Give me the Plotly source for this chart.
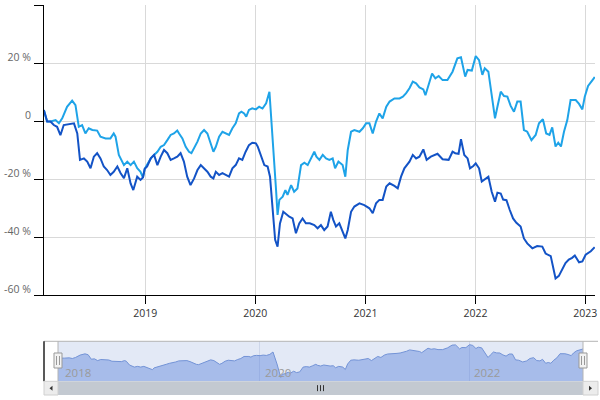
import plotly.graph_objects as go

# ---------------- data ----------------
light_dates = [
    "2018-01-29", "2018-02-09", "2018-02-20", "2018-03-09", "2018-03-20", "2018-03-31",
    "2018-04-16", "2018-05-03", "2018-05-14", "2018-05-25", "2018-06-05", "2018-06-16",
    "2018-06-27", "2018-07-09", "2018-07-25", "2018-08-05", "2018-08-22", "2018-09-07",
    "2018-09-18", "2018-09-24", "2018-10-05", "2018-10-22", "2018-11-02", "2018-11-13",
    "2018-11-24", "2018-12-05", "2018-12-16", "2018-12-24", "2018-12-30",
    "2019-01-07", "2019-01-19", "2019-01-30", "2019-02-10", "2019-02-21", "2019-03-04",
    "2019-03-15", "2019-03-26", "2019-04-06", "2019-04-17", "2019-04-23", "2019-05-04",
    "2019-05-15", "2019-05-26", "2019-06-03", "2019-06-12", "2019-06-23", "2019-07-04",
    "2019-07-15", "2019-07-26", "2019-08-06", "2019-08-15", "2019-08-23", "2019-09-03",
    "2019-09-14", "2019-09-25", "2019-10-06", "2019-10-17", "2019-10-28", "2019-11-08",
    "2019-11-16", "2019-11-25", "2019-12-02", "2019-12-11", "2019-12-22", "2020-01-03",
    "2020-01-14", "2020-01-25", "2020-02-06", "2020-02-17", "2020-03-02", "2020-03-10",
    "2020-03-15", "2020-03-21", "2020-04-01", "2020-04-10", "2020-04-17", "2020-04-29",
    "2020-05-09", "2020-05-20", "2020-06-01", "2020-06-12", "2020-06-23", "2020-07-04",
    "2020-07-15", "2020-07-22", "2020-08-01", "2020-08-12", "2020-08-23", "2020-09-03",
    "2020-09-14", "2020-09-22", "2020-10-03", "2020-10-17", "2020-10-26", "2020-11-03",
    "2020-11-14", "2020-11-25", "2020-12-12", "2020-12-23", "2021-01-03", "2021-01-14",
    "2021-01-25", "2021-02-05", "2021-02-16", "2021-02-27", "2021-03-11", "2021-03-22",
    "2021-04-07", "2021-04-24", "2021-05-05", "2021-05-16", "2021-05-27",
    "2021-06-07", "2021-06-18", "2021-06-29", "2021-07-12", "2021-07-19", "2021-07-30",
    "2021-08-10", "2021-08-21", "2021-09-01", "2021-09-14", "2021-09-30", "2021-10-17",
    "2021-11-02", "2021-11-14", "2021-11-28", "2021-12-06", "2021-12-20", "2022-01-02",
    "2022-01-13", "2022-01-24", "2022-02-01", "2022-02-13", "2022-02-24", "2022-03-07",
    "2022-03-15", "2022-03-26", "2022-04-06", "2022-04-17", "2022-04-28", "2022-05-09",
    "2022-05-20", "2022-05-31", "2022-06-11", "2022-06-22", "2022-07-06", "2022-07-20",
    "2022-07-31", "2022-08-13", "2022-08-24", "2022-09-04", "2022-09-13", "2022-09-24",
    "2022-10-03", "2022-10-12", "2022-10-22", "2022-11-02", "2022-11-13", "2022-11-30",
    "2022-12-11", "2022-12-22", "2022-12-30", "2023-01-10", "2023-01-29", "2023-02-01",
]
light_values = [
    3.8, -0.2, -0.2, 0.3, -0.8, 0.9,
    4.9, 7.0, 5.5, -2.0, -1.4, -4.3,
    -2.5, -3.1, -3.3, -5.4, -6.0, -6.0,
    -4.3, -5.4, -11.7, -15.2, -14.0, -15.2,
    -14.0, -16.3, -17.5, -19.5, -16.5,
    -15.2, -12.9, -11.7, -10.6, -8.9, -8.3,
    -6.6, -4.8, -4.3, -3.3, -4.3, -6.0,
    -8.9, -10.6, -11.1, -9.4, -7.1, -4.3,
    -3.1, -4.3, -7.7, -10.6, -8.9, -5.4,
    -3.7, -4.3, -4.8, -2.5, -0.8, 2.6,
    3.2, 2.6, 1.5, 3.8, 4.4, 4.0,
    4.9, 4.3, 6.1, 10.1, -10.0, -23.8,
    -32.4, -27.2, -26.1, -23.8, -25.5, -22.1,
    -24.4, -23.3, -15.2, -14.4, -15.2, -12.9,
    -10.6, -12.3, -13.4, -11.7, -12.9, -13.4,
    -12.9, -16.3, -14.0, -15.2, -19.2, -10.0,
    -3.7, -3.1, -3.7, -2.5, -0.8, -0.8,
    -4.3, -0.2, 2.6, 0.9, 4.9, 6.7,
    7.8, 7.8, 8.4, 9.6, 11.3,
    13.6, 13.0, 11.6, 10.9, 8.9, 13.0,
    16.4, 14.7, 15.5, 14.1, 14.1, 17.0,
    21.6, 22.0, 15.3, 17.6, 17.4, 22.4,
    21.0, 15.9, 18.2, 17.0, 9.5, 0.9,
    4.9, 10.1, 8.6, 8.4, 5.2, 3.2,
    6.7, 6.7, -3.1, -3.7, -6.6, -4.8,
    -0.8, 0.6, -4.3, -4.8, -2.2, -8.8,
    -7.5, -8.8, -3.7, 0.3, 7.2, 7.2,
    5.9, 4.0, 8.4, 12.1, 14.7, 15.2,
]

dark_dates = [
    "2018-01-29", "2018-02-09", "2018-02-20", "2018-03-03", "2018-03-14", "2018-03-25",
    "2018-04-05", "2018-04-22", "2018-05-09", "2018-05-20", "2018-05-29", "2018-06-11",
    "2018-06-22", "2018-07-03", "2018-07-14", "2018-07-25", "2018-08-05", "2018-08-16",
    "2018-08-27", "2018-09-07", "2018-09-18", "2018-09-30", "2018-10-11", "2018-10-22",
    "2018-11-02", "2018-11-13", "2018-11-22", "2018-12-05", "2018-12-16", "2018-12-24",
    "2018-12-30",
    "2019-01-07", "2019-01-19", "2019-01-30", "2019-02-10", "2019-02-21", "2019-03-04",
    "2019-03-15", "2019-03-26", "2019-04-06", "2019-04-17", "2019-04-28", "2019-05-09",
    "2019-05-20", "2019-05-31", "2019-06-12", "2019-06-23", "2019-07-04", "2019-07-15",
    "2019-07-26", "2019-08-06", "2019-08-15", "2019-08-23", "2019-09-03", "2019-09-14",
    "2019-09-25", "2019-10-06", "2019-10-17", "2019-10-28", "2019-11-08", "2019-11-19",
    "2019-11-30", "2019-12-11", "2019-12-22", "2020-01-03",
    "2020-01-09", "2020-01-20", "2020-01-31", "2020-02-11", "2020-02-19", "2020-02-27",
    "2020-03-07", "2020-03-15", "2020-03-23", "2020-04-03", "2020-04-14", "2020-04-23",
    "2020-05-04", "2020-05-15", "2020-05-26", "2020-06-06", "2020-06-17", "2020-06-30",
    "2020-07-15", "2020-07-26", "2020-08-06", "2020-08-17", "2020-08-28", "2020-09-08",
    "2020-09-16", "2020-09-25", "2020-10-06", "2020-10-17", "2020-10-26", "2020-11-03",
    "2020-11-14", "2020-11-25", "2020-12-12", "2020-12-28", "2021-01-14", "2021-01-25",
    "2021-02-05", "2021-02-16", "2021-02-27", "2021-03-11", "2021-03-22", "2021-04-07",
    "2021-04-18", "2021-04-29", "2021-05-10", "2021-05-27",
    "2021-06-07", "2021-06-18", "2021-06-29", "2021-07-12", "2021-07-23", "2021-08-06",
    "2021-08-28", "2021-09-14", "2021-10-04", "2021-10-17", "2021-10-26", "2021-11-06",
    "2021-11-14", "2021-11-25", "2021-12-06", "2021-12-14", "2021-12-25", "2022-01-02",
    "2022-01-13", "2022-01-22", "2022-02-02", "2022-02-13", "2022-02-24", "2022-03-07",
    "2022-03-15", "2022-03-26", "2022-04-03", "2022-04-14", "2022-04-25", "2022-05-06",
    "2022-05-17", "2022-05-31", "2022-06-11", "2022-06-22", "2022-07-09", "2022-07-25",
    "2022-08-11", "2022-08-22", "2022-09-08", "2022-09-15", "2022-09-24", "2022-10-05",
    "2022-10-16", "2022-10-27", "2022-11-07", "2022-11-18", "2022-11-27", "2022-12-11",
    "2022-12-22", "2023-01-02", "2023-01-19", "2023-01-29", "2023-02-01",
]
dark_values = [
    3.8, -0.2, -0.2, -1.4, -2.0, -4.9,
    -1.4, -1.1, -0.8, -4.3, -13.4, -12.9,
    -14.0, -16.3, -12.3, -11.1, -12.9, -15.7,
    -16.9, -18.6, -17.5, -15.7, -18.0, -19.7,
    -16.3, -21.5, -23.8, -19.2, -20.3, -19.5,
    -16.5,
    -15.7, -12.9, -11.7, -15.2, -12.3, -10.0,
    -11.1, -13.4, -12.9, -12.3, -11.1, -14.0,
    -19.2, -22.1, -19.8, -16.9, -15.2, -16.3,
    -17.5, -19.2, -19.8, -17.5, -18.6, -18.0,
    -18.6, -19.2, -16.3, -15.2, -12.9, -13.4,
    -10.6, -8.3, -7.5, -7.7,
    -8.8, -12.3, -15.2, -15.7, -19.2, -29.5,
    -41.0, -43.3, -35.3, -31.3, -32.4, -33.0,
    -33.6, -38.7, -35.3, -33.6, -35.3, -35.3,
    -35.9, -37.0, -35.9, -37.6, -36.4, -31.3,
    -34.1, -36.4, -35.3, -38.1, -40.5, -37.6,
    -31.3, -29.5, -28.4, -29.0, -30.1, -31.8,
    -28.4, -27.2, -27.2, -22.6, -21.5, -22.4,
    -23.2, -19.2, -16.3, -14.0,
    -11.7, -12.9, -12.3, -9.8, -13.4, -12.3,
    -11.3, -13.2, -13.4, -10.6, -11.1, -11.3,
    -6.3, -11.7, -12.9, -16.3, -15.5, -14.6,
    -16.3, -20.9, -20.1, -19.2, -24.4, -27.8,
    -24.7, -25.0, -27.1, -27.3, -30.7, -33.6,
    -35.1, -36.4, -40.5, -42.2, -43.9, -43.1,
    -43.3, -45.7, -46.6, -50.2, -54.3, -53.4,
    -51.3, -49.0, -47.8, -47.2, -46.4, -48.7,
    -48.4, -46.1, -44.9, -43.9, -43.5,
]

y_tick_values = [-60, -40, -20, 0, 20, 40]
y_tick_labels = ["-60 %", "-40 %", "-20 %", "0", "20 %", ""]
x_tick_values = ["2019-01-01", "2020-01-01", "2021-01-01", "2022-01-01", "2023-01-01"]
nav_grid_values = ["2020-01-01", "2022-01-01"]
nav_labels = ["2018", "2020", "2022"]

# ---------------- layout helpers ----------------
W, H = 600, 400
ML, MR, MT, MB = 44, 5, 5, 5
PW, PH = W - ML - MR, H - MT - MB


def px(x):
    return (x - ML) / PW


def py(y):
    return (H - MB - y) / PH


MAIN_BOTTOM = 295
NAV_TOP, NAV_BOTTOM, SCROLL_BOTTOM = 341.3, 381.3, 395
NAV_LEFT, NAV_RIGHT, RIGHT_EDGE = 58, 583, 598
NAV_Y_RANGE = [-39, 28]

LIGHT = "#1ea3e8"
DARK = "#1353c6"
FONT = "Open Sans, Liberation Sans, sans-serif"

fig = go.Figure()
fig.add_trace(go.Scatter(x=light_dates, y=light_values, mode="lines",
                         line=dict(color=LIGHT, width=2), xaxis="x", yaxis="y",
                         hoverinfo="skip", showlegend=False))
fig.add_trace(go.Scatter(x=dark_dates, y=dark_values, mode="lines",
                         line=dict(color=DARK, width=2), xaxis="x", yaxis="y",
                         hoverinfo="skip", showlegend=False))
# navigator (series 1 as an area down to the navigator floor)
fig.add_trace(go.Scatter(x=light_dates, y=[NAV_Y_RANGE[0]] * len(light_dates), mode="lines",
                         line=dict(width=0), xaxis="x2", yaxis="y2",
                         hoverinfo="skip", showlegend=False))
fig.add_trace(go.Scatter(x=light_dates, y=light_values, mode="lines", fill="tonexty",
                         fillcolor="rgba(70,115,215,0.38)",
                         line=dict(color="#7393d6", width=1), xaxis="x2", yaxis="y2",
                         hoverinfo="skip", showlegend=False))

shapes = []
# navigator selected-range mask
shapes.append(dict(type="rect", xref="paper", yref="paper", layer="below",
                   x0=px(NAV_LEFT), x1=px(NAV_RIGHT), y0=py(NAV_BOTTOM), y1=py(NAV_TOP),
                   fillcolor="#e3e9f6", line=dict(width=0)))
# navigator outline
shapes.append(dict(type="line", xref="paper", yref="paper",
                   x0=px(44), x1=px(RIGHT_EDGE), y0=py(NAV_TOP), y1=py(NAV_TOP),
                   line=dict(color="#b4b4b4", width=1)))
for xx in (NAV_LEFT, NAV_RIGHT):
    shapes.append(dict(type="line", xref="paper", yref="paper",
                       x0=px(xx), x1=px(xx), y0=py(NAV_BOTTOM), y1=py(NAV_TOP),
                       line=dict(color="#b4b4b4", width=1)))
shapes.append(dict(type="line", xref="paper", yref="paper",
                   x0=px(44), x1=px(44), y0=py(NAV_BOTTOM), y1=py(NAV_TOP),
                   line=dict(color="#222222", width=1.5)))
# scrollbar
shapes.append(dict(type="rect", xref="paper", yref="paper",
                   x0=px(NAV_LEFT), x1=px(NAV_RIGHT), y0=py(SCROLL_BOTTOM), y1=py(NAV_BOTTOM),
                   fillcolor="#c3c9d1", line=dict(width=0)))
for a, b in ((44, NAV_LEFT), (NAV_RIGHT, RIGHT_EDGE)):
    shapes.append(dict(type="rect", xref="paper", yref="paper",
                       x0=px(a), x1=px(b), y0=py(SCROLL_BOTTOM), y1=py(NAV_BOTTOM),
                       fillcolor="#ececec", line=dict(color="#d0d0d0", width=1)))
ymid = (NAV_BOTTOM + SCROLL_BOTTOM) / 2
cx_l = (44 + NAV_LEFT) / 2
cx_r = (NAV_RIGHT + RIGHT_EDGE) / 2
shapes.append(dict(type="path", xref="paper", yref="paper",
                   path=f"M {px(cx_l + 1.5)} {py(ymid - 2.5)} L {px(cx_l - 1.5)} {py(ymid)} "
                        f"L {px(cx_l + 1.5)} {py(ymid + 2.5)} Z",
                   fillcolor="#333333", line=dict(width=0)))
shapes.append(dict(type="path", xref="paper", yref="paper",
                   path=f"M {px(cx_r - 1.5)} {py(ymid - 2.5)} L {px(cx_r + 1.5)} {py(ymid)} "
                        f"L {px(cx_r - 1.5)} {py(ymid + 2.5)} Z",
                   fillcolor="#333333", line=dict(width=0)))
cx_m = (NAV_LEFT + NAV_RIGHT) / 2
for d in (-3, 0, 3):
    shapes.append(dict(type="line", xref="paper", yref="paper",
                       x0=px(cx_m + d), x1=px(cx_m + d), y0=py(ymid + 3), y1=py(ymid - 3),
                       line=dict(color="#333333", width=1)))
# handles
for xx in (NAV_LEFT, NAV_RIGHT):
    shapes.append(dict(type="rect", xref="paper", yref="paper",
                       x0=px(xx - 4), x1=px(xx + 4), y0=py(368), y1=py(353),
                       fillcolor="#f2f2f2", line=dict(color="#999999", width=1)))
    for d in (-1.5, 1.5):
        shapes.append(dict(type="line", xref="paper", yref="paper",
                           x0=px(xx + d), x1=px(xx + d), y0=py(365), y1=py(356),
                           line=dict(color="#999999", width=1)))

annotations = []
nav_label_pos = [(light_dates[0], 4.5), (nav_grid_values[0], 3), (nav_grid_values[1], 3)]
for label, (xv, shift) in zip(nav_labels, nav_label_pos):
    annotations.append(dict(text=label, x=xv, xref="x2", y=py(372.5), yref="paper",
                            xanchor="left", yanchor="middle", xshift=shift, showarrow=False,
                            font=dict(family=FONT, size=11.5, color="#9a9a9a")))

fig.update_layout(
    width=W, height=H,
    margin=dict(l=ML, r=MR, t=MT, b=MB, autoexpand=False),
    paper_bgcolor="white", plot_bgcolor="rgba(0,0,0,0)",
    font=dict(family=FONT),
    showlegend=False,
    shapes=shapes,
    annotations=annotations,
    xaxis=dict(domain=[0, 1], anchor="y", type="date", automargin=False,
               range=["2018-01-29 12:00", "2023-02-02"],
               tickmode="array", tickvals=x_tick_values, tickformat="%Y",
               ticks="outside", ticklen=8, tickcolor="#000000", tickwidth=1,
               showline=True, linecolor="#000000", linewidth=1,
               showgrid=True, gridcolor="#d9d9d9", gridwidth=1, zeroline=False,
               tickfont=dict(family=FONT, size=10.5, color="#333333")),
    yaxis=dict(domain=[py(MAIN_BOTTOM), 1], anchor="x", range=[-60, 40], automargin=False,
               tickmode="array", tickvals=y_tick_values, ticktext=y_tick_labels,
               ticks="outside", ticklen=9, tickcolor="#000000", tickwidth=1,
               showline=True, linecolor="#000000", linewidth=1,
               showgrid=True, gridcolor="#d9d9d9", gridwidth=1, zeroline=False,
               ticklabelshift=-6, ticklabelstandoff=1,
               tickfont=dict(family=FONT, size=10.5, color="#666666")),
    xaxis2=dict(domain=[px(NAV_LEFT), px(NAV_RIGHT)], anchor="y2", type="date",
                automargin=False,
                range=[light_dates[0], light_dates[-1]],
                tickmode="array", tickvals=nav_grid_values, showticklabels=False,
                ticks="", showline=False, showgrid=True, gridcolor="#cdd6ea",
                zeroline=False),
    yaxis2=dict(domain=[py(NAV_BOTTOM), py(NAV_TOP)], anchor="x2", range=NAV_Y_RANGE,
                automargin=False,
                showgrid=False, showticklabels=False, showline=False, zeroline=False,
                ticks=""),
)

fig.write_html("out.html", config={"displayModeBar": False},
               post_script="document.body.style.margin='0';")
